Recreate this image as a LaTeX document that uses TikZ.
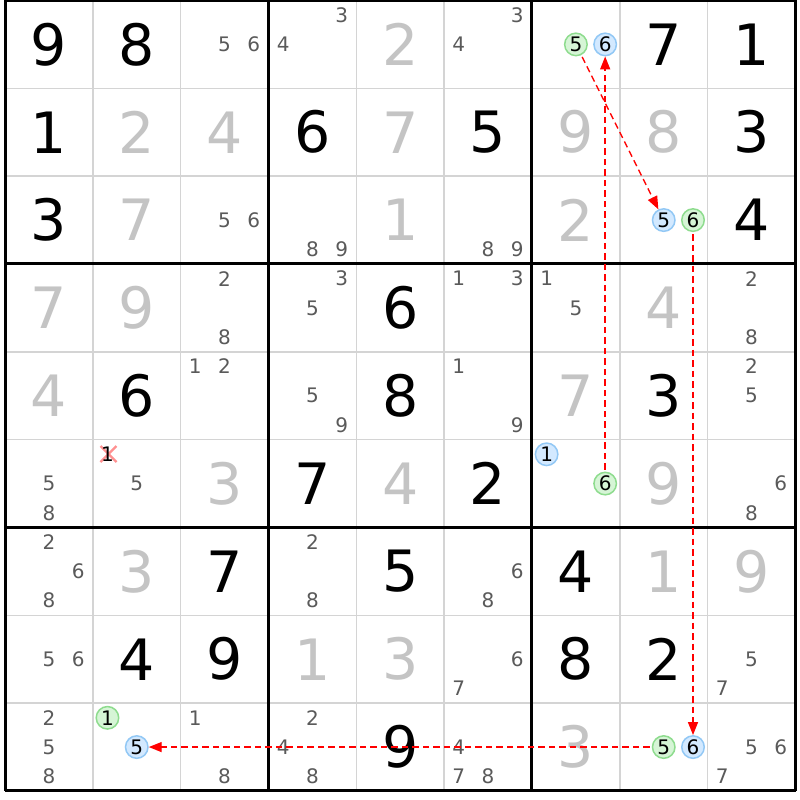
\documentclass[tikz,border=0pt]{standalone}
\usepackage{fontspec}
\setmainfont{DejaVu Sans}
\usetikzlibrary{arrows.meta}
\definecolor{solvc}{HTML}{C4C4C4}
\definecolor{candc}{HTML}{5A5A5A}
\definecolor{gridc}{HTML}{D4D4D4}
\definecolor{gfill}{HTML}{D6F5D6}
\definecolor{gedge}{HTML}{8EDC8E}
\definecolor{bfill}{HTML}{D3E9FF}
\definecolor{bedge}{HTML}{92C8F5}
\definecolor{xcol}{HTML}{FF9090}
\newcommand\givn[3]{\node[givd] (n#1#2) at ({5+(#2+0.5)*87.83},{0.5+(#1+0.5)*87.83}) {#3};}
\newcommand\solv[3]{\node[solvd] (n#1#2) at ({5+(#2+0.5)*87.83},{0.5+(#1+0.5)*87.83}) {#3};}
\newcommand\cand[4][cnd]{%
  \pgfmathsetmacro\cxx{5+#3*87.83+(mod(#4-1,3)+0.5)*29.277}%
  \pgfmathsetmacro\cyy{0.5+#2*87.83+(floor((#4-1)/3)+0.5)*29.277}%
  \node[#1] (c#2#3-#4) at (\cxx,\cyy) {#4};}
\newcommand\cands[3]{\foreach \dd in {#3}{\cand{#1}{#2}{\dd}}}
\begin{document}
\begin{tikzpicture}[x=1pt,y=-1pt,
  givd/.style={font=\fontsize{57}{60}\selectfont, text=black, inner sep=0pt},
  solvd/.style={givd, text=solvc},
  cnd/.style={font=\fontsize{20}{22}\selectfont, text=candc, inner sep=0pt},
  cndk/.style={cnd, text=black},
  hlg/.style={cnd, text=black, circle, draw=gedge, fill=gfill, line width=1.5pt, minimum size=22.5pt},
  hlb/.style={hlg, draw=bedge, fill=bfill},
  thinline/.style={gridc, line width=1.6pt},
  thickline/.style={black, line width=3pt},
  arr/.style={red, line width=1.4pt, dash pattern=on 6.5pt off 4pt, -{Triangle[length=13pt,width=10pt]}, shorten <=2pt},
  xmark/.style={xcol, line width=2.4pt}
]
\useasboundingbox (0,0) rectangle (800,800);
\fill[white] (0,0) rectangle (800,800);
% grid
\foreach \i in {1,2,4,5,7,8}{
  \draw[thinline] ({5+\i*87.83},0.5) -- ({5+\i*87.83},791);
  \draw[thinline] (5,{0.5+\i*87.83}) -- (795.5,{0.5+\i*87.83});
}
\foreach \i in {0,3,6,9}{
  \draw[thickline] ({5+\i*87.83},0.5) -- ({5+\i*87.83},791);
  \draw[thickline] (5,{0.5+\i*87.83}) -- (795.5,{0.5+\i*87.83});
}
% row 0
\givn{0}{0}{9} \givn{0}{1}{8} \cands{0}{2}{5,6} \cands{0}{3}{3,4} \solv{0}{4}{2}
\cands{0}{5}{3,4} \cand[hlg]{0}{6}{5} \cand[hlb]{0}{6}{6} \givn{0}{7}{7} \givn{0}{8}{1}
% row 1
\givn{1}{0}{1} \solv{1}{1}{2} \solv{1}{2}{4} \givn{1}{3}{6} \solv{1}{4}{7}
\givn{1}{5}{5} \solv{1}{6}{9} \solv{1}{7}{8} \givn{1}{8}{3}
% row 2
\givn{2}{0}{3} \solv{2}{1}{7} \cands{2}{2}{5,6} \cands{2}{3}{8,9} \solv{2}{4}{1}
\cands{2}{5}{8,9} \solv{2}{6}{2} \cand[hlb]{2}{7}{5} \cand[hlg]{2}{7}{6} \givn{2}{8}{4}
% row 3
\solv{3}{0}{7} \solv{3}{1}{9} \cands{3}{2}{2,8} \cands{3}{3}{3,5} \givn{3}{4}{6}
\cands{3}{5}{1,3} \cands{3}{6}{1,5} \solv{3}{7}{4} \cands{3}{8}{2,8}
% row 4
\solv{4}{0}{4} \givn{4}{1}{6} \cands{4}{2}{1,2} \cands{4}{3}{5,9} \givn{4}{4}{8}
\cands{4}{5}{1,9} \solv{4}{6}{7} \givn{4}{7}{3} \cands{4}{8}{2,5}
% row 5
\cands{5}{0}{5,8}
\draw[xmark] (100.5,446) -- (116.5,462);
\draw[xmark] (100.5,462) -- (116.5,446);
\cand[cndk]{5}{1}{1} \cand{5}{1}{5}
\solv{5}{2}{3} \givn{5}{3}{7} \solv{5}{4}{4} \givn{5}{5}{2}
\cand[hlb]{5}{6}{1} \cand[hlg]{5}{6}{6} \solv{5}{7}{9} \cands{5}{8}{6,8}
% row 6
\cands{6}{0}{2,6,8} \solv{6}{1}{3} \givn{6}{2}{7} \cands{6}{3}{2,8} \givn{6}{4}{5}
\cands{6}{5}{6,8} \givn{6}{6}{4} \solv{6}{7}{1} \solv{6}{8}{9}
% row 7
\cands{7}{0}{5,6} \givn{7}{1}{4} \givn{7}{2}{9} \solv{7}{3}{1} \solv{7}{4}{3}
\cands{7}{5}{6,7} \givn{7}{6}{8} \givn{7}{7}{2} \cands{7}{8}{5,7}
% row 8
\cands{8}{0}{2,5,8} \cand[hlg]{8}{1}{1} \cand[hlb]{8}{1}{5} \cands{8}{2}{1,8}
\cands{8}{3}{2,4,8} \givn{8}{4}{9} \cands{8}{5}{4,7,8} \solv{8}{6}{3}
\cand[hlg]{8}{7}{5} \cand[hlb]{8}{7}{6} \cands{8}{8}{5,6,7}
% chain
\draw[arr] (c06-5) -- (c27-5);
\draw[arr] (c56-6) -- (c06-6);
\draw[arr] (c27-6) -- (c87-6);
\draw[arr] (c87-5) -- (c81-5);
\end{tikzpicture}
\end{document}
